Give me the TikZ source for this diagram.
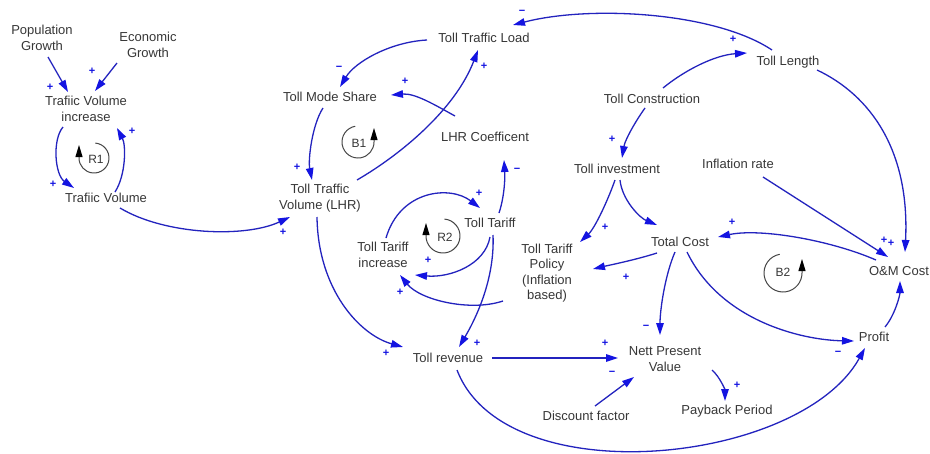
\documentclass[tikz,border=0pt]{standalone}
\usepackage{fontspec}
\setmainfont{Liberation Sans}
\usetikzlibrary{arrows.meta,calc}
\definecolor{lc}{RGB}{35,35,190}
\definecolor{hc}{RGB}{20,20,225}
\definecolor{txt}{RGB}{55,55,55}
\definecolor{lpc}{RGB}{70,70,70}
\tikzset{
  var/.style={font=\fontsize{13}{15.5}\selectfont, text=txt, align=center, inner sep=1pt},
  lk/.style={draw=lc, line width=1.3pt, -{Triangle[length=12pt,width=7.5pt,color=hc]}},
  pol/.style={font=\fontsize{11}{11}\selectfont\bfseries, text=hc, inner sep=0pt},
  loopc/.style={draw=lpc, line width=1pt, -{Triangle[length=12pt,width=7pt,color=black]}},
  looplab/.style={font=\fontsize{12}{12}\selectfont, text=txt, inner sep=0pt}
}
\begin{document}
\begin{tikzpicture}[x=1pt,y=1pt]
\fill[white] (0,0) rectangle (930,-453);
\useasboundingbox (0,0) rectangle (930,-453);
% variables
\node[var] (pg) at (42,-38) {Population\\Growth};
\node[var] (eg) at (148,-45) {Economic\\Growth};
\node[var] (tvi) at (86,-109) {Trafiic Volume\\increase};
\node[var] (tv) at (106,-198) {Trafiic Volume};
\node[var] (ttl) at (484,-38) {Toll Traffic Load};
\node[var] (tms) at (330,-97) {Toll Mode Share};
\node[var] (lhr) at (485,-137) {LHR Coefficent};
\node[var] (ttv) at (320,-198) {Toll Traffic\\Volume (LHR)};
\node[var] (tlen) at (788,-62) {Toll Length};
\node[var] (tc) at (652,-99) {Toll Construction};
\node[var] (ti) at (617,-169) {Toll investment};
\node[var] (ir) at (738,-164) {Inflation rate};
\node[var] (tt) at (490,-223) {Toll Tariff};
\node[var] (tti) at (383,-255) {Toll Tariff\\increase};
\node[var] (ttp) at (547,-273) {Toll Tariff\\Policy\\(Inflation\\based)};
\node[var] (rev) at (448,-358) {Toll revenue};
\node[var] (tcost) at (680,-242) {Total Cost};
\node[var] (om) at (899,-271) {O\&M Cost};
\node[var] (npv) at (665,-359) {Nett Present\\Value};
\node[var] (profit) at (874,-337) {Profit};
\node[var] (pp) at (727,-411) {Payback Period};
\node[var] (df) at (586,-416) {Discount factor};
% links
\draw[lk] ($(pg)+(6,-19)$) -- ($(tvi)+(-18,17)$);
\draw[lk] ($(eg)+(-31,-18)$) -- ($(tvi)+(9,18)$);
\draw[lk] ($(tvi)+(-23,-18)$) .. controls (52,-140) and (55,-175) .. ($(tv)+(-32,10)$);
\draw[lk] ($(tv)+(9,6)$) .. controls (126,-175) and (126,-145) .. ($(tvi)+(31,-19)$);
\draw[lk] ($(tv)+(14,-10)$) .. controls (165,-235) and (245,-238) .. ($(ttv)+(-30,-19)$);
\draw[lk] ($(tms)+(-7,-11)$) .. controls (312,-125) and (308,-160) .. ($(ttv)+(-8,18)$);
\draw[lk] ($(ttv)+(37,18)$) .. controls (400,-155) and (455,-110) .. ($(ttl)+(-6,-12)$);
\draw[lk] ($(ttl)+(-57,-2)$) .. controls (390,-42) and (355,-62) .. ($(tms)+(10,10)$);
\draw[lk] ($(lhr)+(-30,21)$) .. controls (435,-105) and (415,-93) .. ($(tms)+(61,2)$);
\draw[lk] ($(tlen)+(-16,12)$) .. controls (715,-12) and (590,-5) .. ($(ttl)+(29,13)$);
\draw[lk] ($(tc)+(11,11)$) .. controls (685,-70) and (715,-55) .. ($(tlen)+(-41,9)$);
\draw[lk] ($(tc)+(-7,-9)$) .. controls (635,-122) and (625,-140) .. ($(ti)+(5,11)$);
\draw[lk] ($(tlen)+(29,-8)$) .. controls (870,-95) and (910,-150) .. ($(om)+(6,19)$);
\draw[lk] ($(ir)+(25,-13)$) -- ($(om)+(-11,14)$);
\draw[lk] ($(ti)+(-2,-11)$) .. controls (608,-200) and (595,-228) .. ($(ttp)+(33,31)$);
\draw[lk] ($(ti)+(3,-11)$) .. controls (622,-200) and (640,-218) .. ($(tcost)+(-23,17)$);
\draw[lk] ($(om)+(-23,11)$) .. controls (830,-240) and (760,-228) .. ($(tcost)+(38,5)$);
\draw[lk] ($(tcost)+(-23,-11)$) .. controls (635,-260) and (610,-265) .. ($(ttp)+(46,4)$);
\draw[lk] ($(tcost)+(-5,-10)$) .. controls (665,-275) and (660,-310) .. ($(npv)+(-5,24)$);
\draw[lk] ($(tcost)+(7,-10)$) .. controls (720,-320) and (800,-340) .. ($(profit)+(-20,-4)$);
\draw[lk] ($(profit)+(11,10)$) .. controls (895,-315) and (900,-295) .. ($(om)+(1,-10)$);
\draw[lk] ($(rev)+(44,0)$) -- ($(npv)+(-47,1)$);
\draw[lk] ($(rev)+(9,-12)$) .. controls (505,-495) and (800,-465) .. ($(profit)+(-9,-11)$);
\draw[lk] ($(df)+(9,10)$) -- ($(npv)+(-31,-18)$);
\draw[lk] ($(npv)+(47,-11)$) .. controls (720,-377) and (725,-390) .. ($(pp)+(-2,10)$);
\draw[lk] ($(ttv)+(-3,-19)$) .. controls (318,-290) and (360,-335) .. ($(rev)+(-45,11)$);
\draw[lk] ($(tt)+(3,-12)$) .. controls (495,-280) and (475,-320) .. ($(rev)+(11,11)$);
\draw[lk] ($(tt)+(9,10)$) .. controls (505,-195) and (505,-175) .. ($(lhr)+(19,-23)$);
\draw[lk] ($(tti)+(3,17)$) .. controls (400,-190) and (450,-185) .. ($(tt)+(-10,15)$);
\draw[lk] ($(tt)+(0,-14)$) .. controls (485,-265) and (450,-278) .. ($(tti)+(32,-20)$);
\draw[lk] ($(ttp)+(-44,-28)$) .. controls (470,-312) and (420,-300) .. ($(tti)+(17,-20)$);
% polarities
\node[pol] (s1) at (50,-87) {+};
\node[pol] (s2) at (92,-71) {+};
\node[pol] (s3) at (53,-184) {+};
\node[pol] (s4) at (132,-131) {+};
\node[pol] (s5) at (283,-232) {+};
\node[pol] (s6) at (297,-167) {+};
\node[pol] (s7) at (484,-66) {+};
\node[pol] (s8) at (339,-68) {−};
\node[pol] (s9) at (405,-81) {+};
\node[pol] (s10) at (522,-12) {−};
\node[pol] (s11) at (733,-39) {+};
\node[pol] (s12) at (612,-139) {+};
\node[pol] (s13) at (884,-240) {+};
\node[pol] (s14) at (891,-243) {+};
\node[pol] (s15) at (605,-227) {+};
\node[pol] (s16) at (732,-222) {+};
\node[pol] (s17) at (626,-277) {+};
\node[pol] (s18) at (646,-327) {−};
\node[pol] (s19) at (838,-353) {−};
\node[pol] (s20) at (605,-343) {+};
\node[pol] (s21) at (612,-373) {−};
\node[pol] (s22) at (737,-385) {+};
\node[pol] (s23) at (386,-353) {+};
\node[pol] (s24) at (477,-343) {+};
\node[pol] (s25) at (517,-170) {−};
\node[pol] (s26) at (479,-193) {+};
\node[pol] (s27) at (428,-260) {+};
\node[pol] (s28) at (400,-292) {+};
% loop markers
\node[looplab] (r1) at (96,-159) {R1};
\draw[loopc] (94,-158) ++(85:15) arc[start angle=85, end angle=-180, radius=15] -- ++(0,13);
\node[looplab] (b1) at (359,-143) {B1};
\draw[loopc] (358,-142) ++(100:16) arc[start angle=100, end angle=360, radius=16] -- ++(0,14);
\node[looplab] (r2) at (445,-237) {R2};
\draw[loopc] (443,-236) ++(85:17) arc[start angle=85, end angle=-180, radius=17] -- ++(0,13);
\node[looplab] (b2) at (783,-272) {B2};
\draw[loopc] (783,-273) ++(100:19) arc[start angle=100, end angle=360, radius=19] -- ++(0,14);
\end{tikzpicture}
\end{document}
